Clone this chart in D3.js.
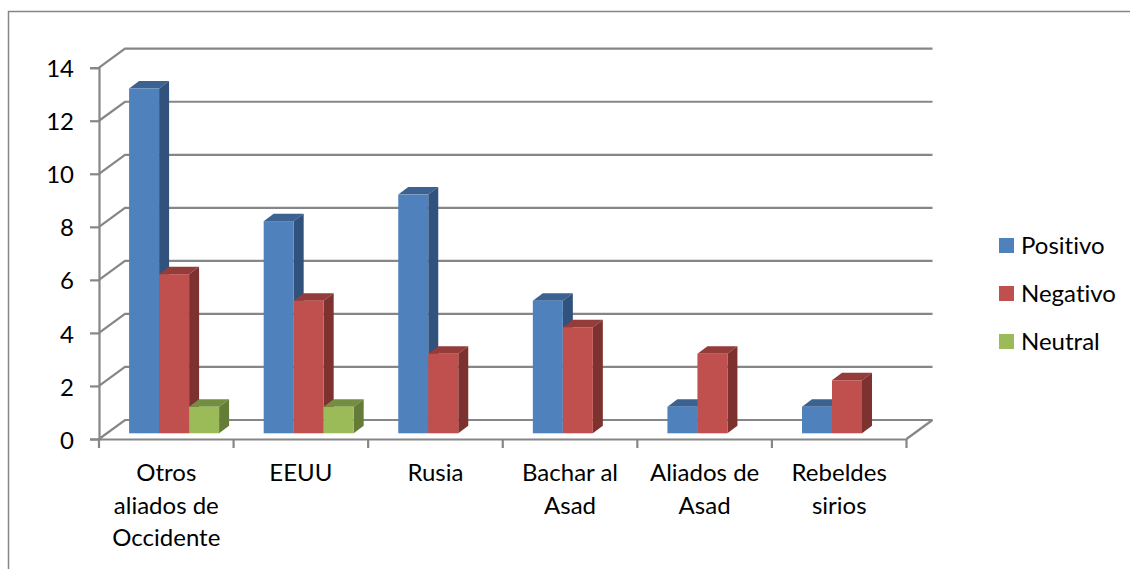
<!DOCTYPE html>
<html>
<head>
<meta charset="utf-8">
<script src="https://cdnjs.cloudflare.com/ajax/libs/d3/7.8.5/d3.min.js"></script>
<style>
html,body{margin:0;padding:0;background:#fff;overflow:hidden}
text{font-family:Lato,"Open Sans",sans-serif;fill:#000;font-variant-ligatures:none}
</style>
</head>
<body>
<svg id="graph" width="1130" height="569"></svg>
<script>
var categories = ["Otros aliados de Occidente","EEUU","Rusia","Bachar al Asad","Aliados de Asad","Rebeldes sirios"];
var categoryLines = [["Otros","aliados de","Occidente"],["EEUU"],["Rusia"],["Bachar al","Asad"],["Aliados de","Asad"],["Rebeldes","sirios"]];
var seriesNames = ["Positivo","Negativo","Neutral"];
var positivo = [13,8,9,5,1,1];
var negativo = [6,5,3,4,3,2];
var neutral = [1,1,0,0,0,0];
var yTicks = [0,2,4,6,8,10,12,14];

var seriesValues = [positivo,negativo,neutral];
var colors = [
    {front:"#4f81bd",top:"#3b6291",side:"#30527c"},
    {front:"#c0504d",top:"#933c3a",side:"#7d3230"},
    {front:"#9bbb59",top:"#748e41",side:"#657c38"}
];
var gridColor = "#868686";
var fontSize = "24px";
var wall = {dx:26,dy:-19};     // offset front -> back of the floor
var depth = {dx:10,dy:-7.5};   // bar depth

var svg = d3.select("#graph");

// outer border of the picture
svg.append("path")
    .attr("d","M8.5,569V11.5H1130")
    .attr("fill","none")
    .attr("stroke",gridColor)
    .attr("stroke-width",1.5);

var xScale = d3.scaleBand()
    .domain(categories)
    .range([99,906.5]);

var yScale = d3.scaleLinear()
    .domain([0,14])
    .range([439,67.7]);

var innerScale = d3.scaleBand()
    .domain(seriesNames)
    .range([0,90]);

// back wall lines and left wall diagonals
var grid = svg.append("g")
    .attr("fill","none")
    .attr("stroke",gridColor)
    .attr("stroke-width",2.2);

grid.selectAll("path.wall")
    .data(yTicks)
    .enter()
    .append("path")
    .attr("class","wall")
    .attr("d",function(t){
        var y = yScale(t);
        return "M99," + y + "L" + (99 + wall.dx) + "," + (y + wall.dy) + "H" + (906.5 + wall.dx);
    });

grid.append("path")
    .attr("d","M906.5," + yScale(0) + "L" + (906.5 + wall.dx) + "," + (yScale(0) + wall.dy));

// axes
var yAxis = d3.axisLeft(yScale)
    .tickValues(yTicks)
    .tickSize(9)
    .tickPadding(16);

var gy = svg.append("g")
    .attr("transform","translate(99,0)")
    .call(yAxis);

gy.select(".domain").attr("stroke",gridColor).attr("stroke-width",2.2);
gy.selectAll(".tick line").attr("stroke",gridColor).attr("stroke-width",2.2);
gy.selectAll(".tick text")
    .attr("dy","0.38em")
    .style("font-size",fontSize);

var xAxis = d3.axisBottom(xScale)
    .tickSize(0)
    .tickFormat("");

var gx = svg.append("g")
    .attr("transform","translate(0," + yScale(0) + ")")
    .call(xAxis);

gx.select(".domain").attr("stroke",gridColor).attr("stroke-width",2.2);

// category edge ticks, band scale centres them so they are drawn here
gx.selectAll("line.edge")
    .data(categories.concat([null]))
    .enter()
    .append("line")
    .attr("class","edge")
    .attr("x1",function(d){ return d === null ? 906.5 : xScale(d) })
    .attr("x2",function(d){ return d === null ? 906.5 : xScale(d) })
    .attr("y1",0)
    .attr("y2",9)
    .attr("stroke",gridColor)
    .attr("stroke-width",2.2);

// category labels
var labels = svg.append("g")
    .attr("text-anchor","middle")
    .style("font-size",fontSize);

categories.forEach(function(c,i){
    categoryLines[i].forEach(function(line,j){
        labels.append("text")
            .attr("x",xScale(c) + xScale.bandwidth()/2)
            .attr("y",481 + j*32.5)
            .text(line);
    });
});

// bars
var gapLeft = (xScale.bandwidth() - innerScale.range()[1])/2 + wall.dx*0.3;
var floorShift = wall.dy*0.3;
var bars = svg.append("g");

var drawBar = function(cat,name,value,color){
    var x0 = xScale(cat) + gapLeft + innerScale(name);
    var w = innerScale.bandwidth();
    var yTop = yScale(value) + floorShift;
    var yBase = yScale(0) + floorShift;
    var bar = bars.append("g");
    bar.append("path")
        .attr("d","M" + x0 + "," + yTop + "l" + depth.dx + "," + depth.dy + "h" + w + "l" + (-depth.dx) + "," + (-depth.dy) + "z")
        .attr("fill",color.top);
    bar.append("path")
        .attr("d","M" + (x0 + w) + "," + yTop + "l" + depth.dx + "," + depth.dy + "V" + (yBase + depth.dy) + "l" + (-depth.dx) + "," + (-depth.dy) + "z")
        .attr("fill",color.side);
    bar.append("rect")
        .attr("x",x0)
        .attr("y",yTop)
        .attr("width",w)
        .attr("height",yBase - yTop)
        .attr("fill",color.front);
}

categories.forEach(function(c,i){
    seriesNames.forEach(function(name,s){
        var v = seriesValues[s][i];
        if(v > 0){ drawBar(c,name,v,colors[s]) }
    });
});

// legend
var legendScale = d3.scalePoint()
    .domain(seriesNames)
    .range([245.5,341.5]);

var legend = svg.append("g")
    .selectAll("g")
    .data(seriesNames)
    .enter()
    .append("g")
    .attr("transform",function(d){ return "translate(999," + legendScale(d) + ")" });

legend.append("rect")
    .attr("x",0)
    .attr("y",-7.5)
    .attr("width",15)
    .attr("height",15)
    .attr("fill",function(d,i){ return colors[i].front });

legend.append("text")
    .attr("x",22)
    .attr("y",8)
    .style("font-size",fontSize)
    .text(function(d){ return d });
</script>
</body>
</html>
